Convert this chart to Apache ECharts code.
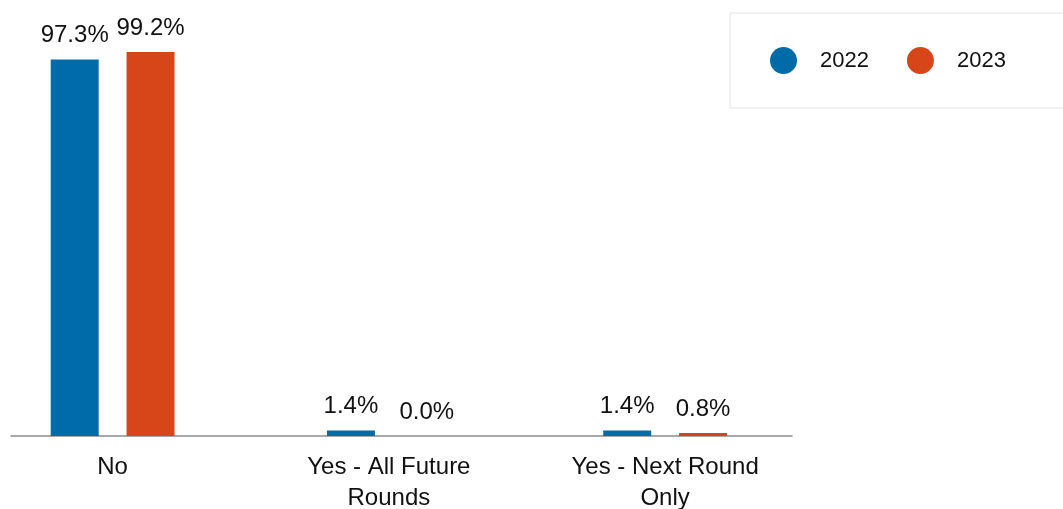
<!DOCTYPE html>
<html>
<head>
<meta charset="utf-8">
<script src="https://cdn.jsdelivr.net/npm/echarts@6/dist/echarts.min.js"></script>
<style>
  html, body { margin: 0; padding: 0; background: #fff; }
  #chart { width: 1063px; height: 509px; }
</style>
</head>
<body>
<div id="chart"></div>
<script>
// Survey answers and yearly shares (percent)
const categories = ['No', 'Yes - All Future\nRounds', 'Yes - Next Round\nOnly'];
const years = ['2022', '2023'];
const values2022 = [97.3, 1.4, 1.4];
const values2023 = [99.2, 0.0, 0.8];

const colors = ['#006BA9', '#D64618'];
const fontFamily = '"Liberation Sans", Arial, sans-serif';

const chart = echarts.init(document.getElementById('chart'));

const labelStyle = {
  show: true,
  position: 'top',
  distance: 12,
  color: '#111',
  fontSize: 24,
  fontFamily: fontFamily,
  formatter: p => p.value.toFixed(1) + '%'
};

chart.setOption({
  animation: false,
  legend: {
    data: years,
    orient: 'horizontal',
    left: 730,
    top: 13,
    width: 400,
    padding: [34, 80, 34, 40],
    borderColor: '#e4e4e4',
    borderWidth: 1,
    icon: 'circle',
    itemWidth: 27,
    itemHeight: 27,
    itemGap: 38,
    textStyle: {
      color: '#111',
      fontSize: 22,
      fontFamily: fontFamily,
      padding: [0, 0, 0, 18]
    }
  },
  grid: [
    { left: -25.5, right: 259.75, top: 49, bottom: 73, outerBoundsMode: 'none', containLabel: false },
    { left: 11, right: 271, top: 49, bottom: 73, outerBoundsMode: 'none', containLabel: false }
  ],
  xAxis: [
    {
      type: 'category',
      gridIndex: 0,
      data: categories,
      axisLine: { show: false },
      axisTick: { show: false },
      axisLabel: {
        margin: 16,
        color: '#111',
        fontSize: 24,
        lineHeight: 31,
        fontFamily: fontFamily,
        interval: 0
      }
    },
    {
      // baseline rule under the bars
      type: 'category',
      gridIndex: 1,
      data: [''],
      axisLine: { show: true, lineStyle: { color: '#8c8c8c', width: 1.5 } },
      axisTick: { show: false },
      axisLabel: { show: false }
    }
  ],
  yAxis: [
    { type: 'value', gridIndex: 0, min: 0, max: 100, show: false },
    { type: 'value', gridIndex: 1, min: 0, max: 100, show: false }
  ],
  series: [
    {
      name: years[0],
      type: 'bar',
      data: values2022,
      barWidth: 48,
      barGap: '58%',
      itemStyle: { color: colors[0] },
      label: labelStyle
    },
    {
      name: years[1],
      type: 'bar',
      data: values2023,
      barWidth: 48,
      barGap: '58%',
      itemStyle: { color: colors[1] },
      label: labelStyle
    }
  ]
});
</script>
</body>
</html>
